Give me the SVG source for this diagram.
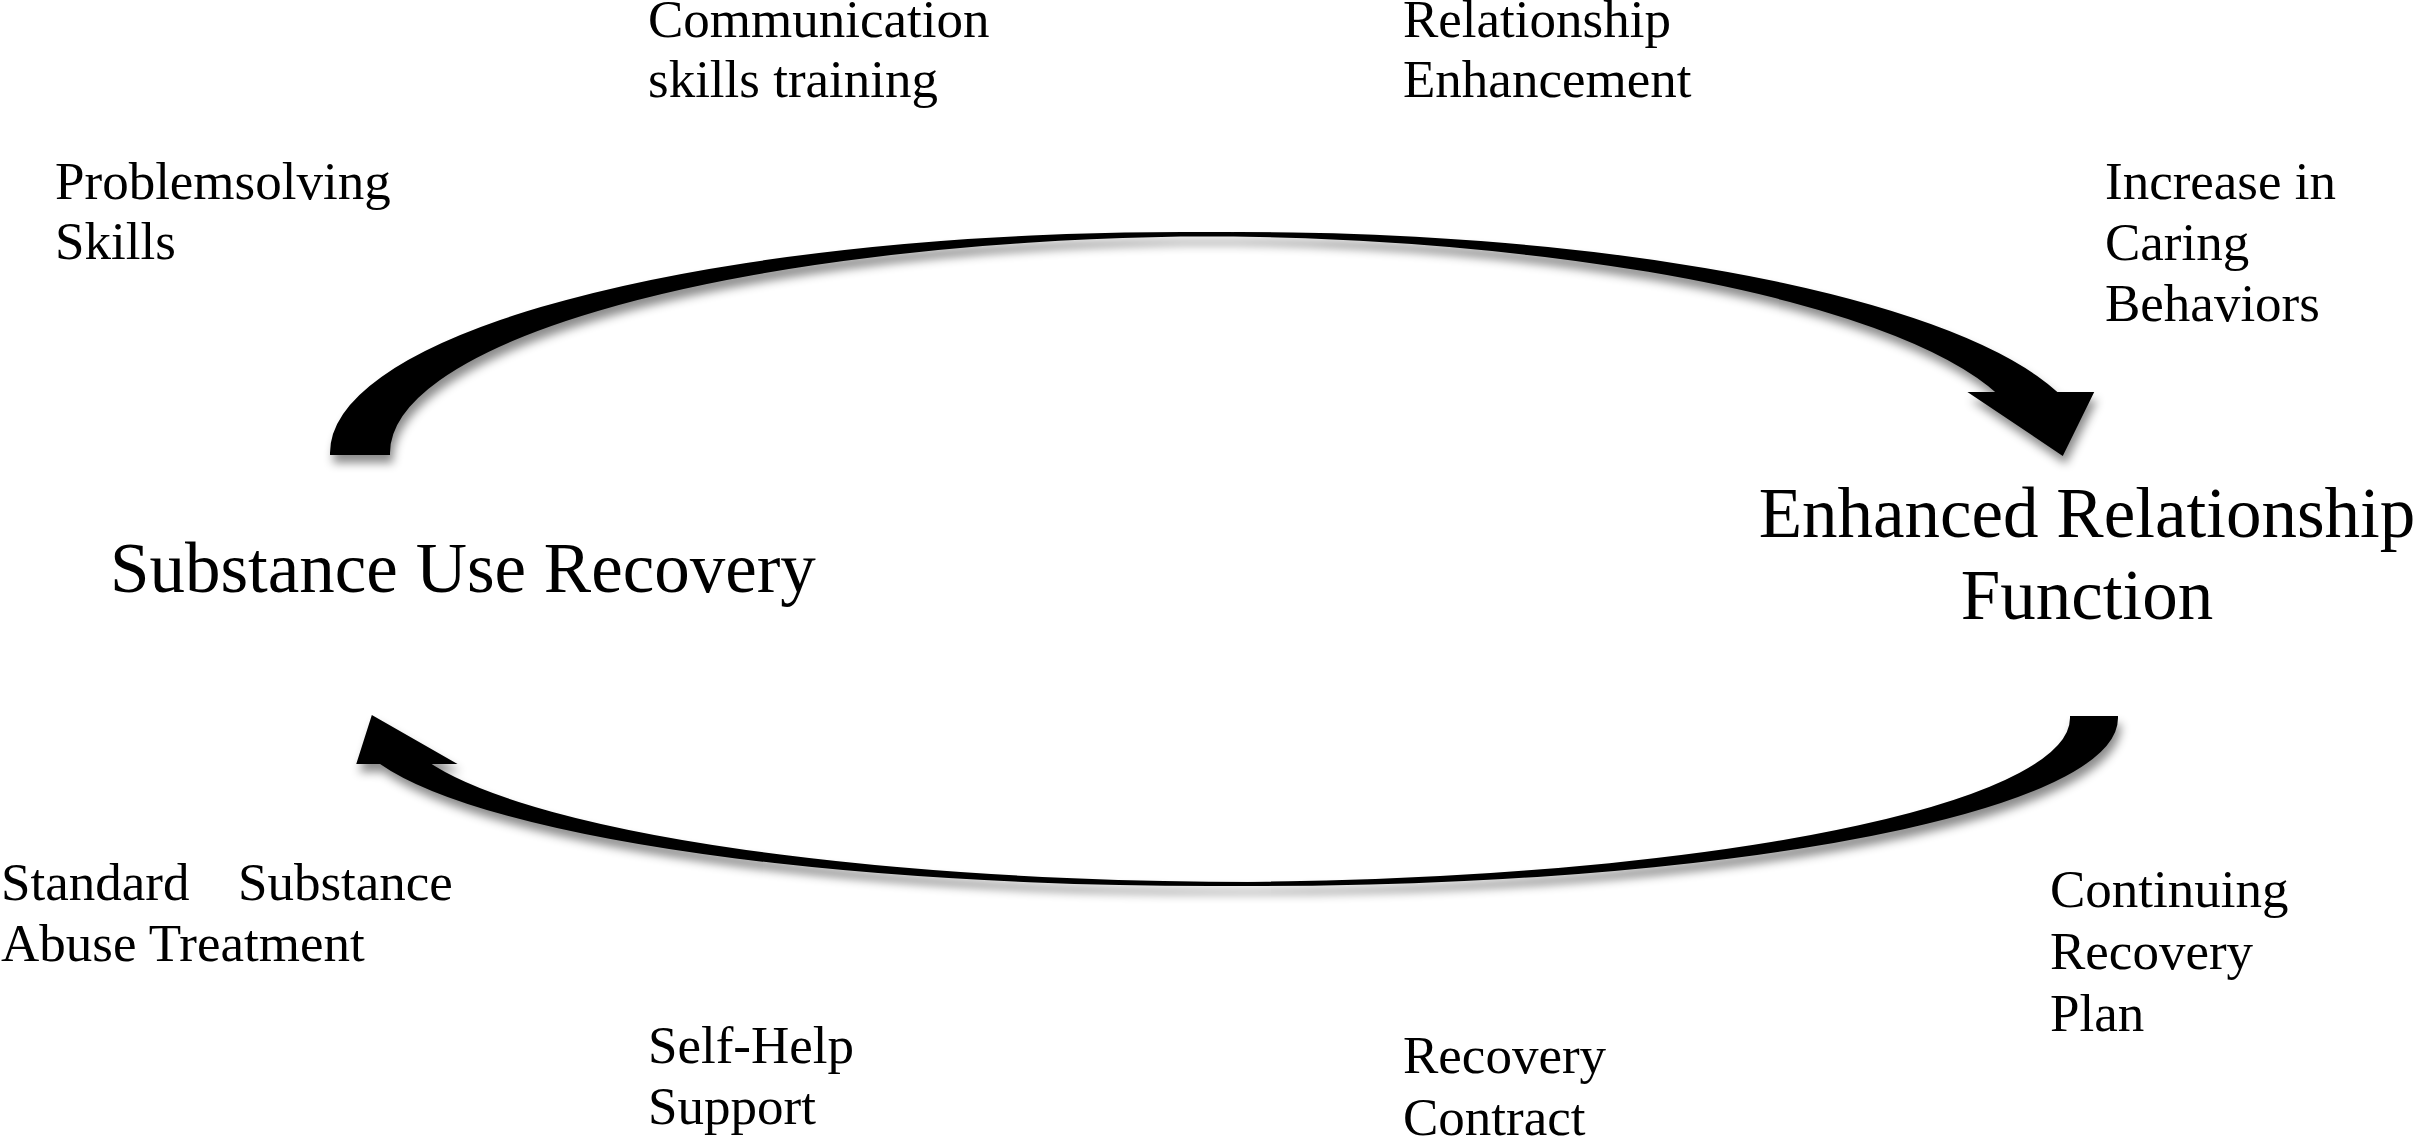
<svg xmlns="http://www.w3.org/2000/svg" width="2417" height="1137" viewBox="0 0 2417 1137">
<style>
.lbl{font-family:"Liberation Serif","Times New Roman",serif;font-size:53px;fill:#000}
.big{font-family:"Liberation Serif","Times New Roman",serif;font-size:71px;fill:#000}
.arrow{fill:#000;stroke:#000;stroke-width:4;stroke-linejoin:miter;filter:url(#shadow)}
</style>
<defs>
<filter id="shadow" x="-5%" y="-20%" width="110%" height="150%">
<feDropShadow dx="3" dy="8" stdDeviation="5" flood-color="#000" flood-opacity="0.45"/>
</filter>
</defs>
<rect width="2417" height="1137" fill="#fff"/>
<g id="connectors">
<path id="arrow-top" class="arrow" d="M 332 453 A 850 219 0 0 1 2000.6 394 L 1974 394 L 2062 453 L 2091 394 L 2056.6 394 A 850 219 0 0 0 388 453 Z"/>
<path id="arrow-bottom" class="arrow" d="M 2116 718 A 861 166 0 0 1 424.8 762 L 450 762 L 373 718 L 359 762 L 380.8 762 A 861 166 0 0 0 2072 718 Z"/>
</g>
<g id="node-substance">
<text class="big" x="110" y="592">Substance Use Recovery</text>
</g>
<g id="node-enhanced">
<text class="big" x="2087" y="537" text-anchor="middle">Enhanced Relationship</text>
<text class="big" x="2087" y="619" text-anchor="middle">Function</text>
</g>
<g id="label-problemsolving">
<text class="lbl" x="55" y="199">Problemsolving</text>
<text class="lbl" x="55" y="259">Skills</text>
</g>
<g id="label-communication">
<text class="lbl" x="648" y="37">Communication</text>
<text class="lbl" x="648" y="97">skills training</text>
</g>
<g id="label-relationship-enh">
<text class="lbl" x="1403" y="37">Relationship</text>
<text class="lbl" x="1403" y="97">Enhancement</text>
</g>
<g id="label-caring">
<text class="lbl" x="2105" y="199">Increase in</text>
<text class="lbl" x="2105" y="260">Caring</text>
<text class="lbl" x="2105" y="321">Behaviors</text>
</g>
<g id="label-standard">
<text class="lbl" x="1" y="900"><tspan>Standard</tspan><tspan x="238">Substance</tspan></text>
<text class="lbl" x="1" y="961">Abuse Treatment</text>
</g>
<g id="label-selfhelp">
<text class="lbl" x="648" y="1063">Self-Help</text>
<text class="lbl" x="648" y="1124">Support</text>
</g>
<g id="label-contract">
<text class="lbl" x="1403" y="1073">Recovery</text>
<text class="lbl" x="1403" y="1135">Contract</text>
</g>
<g id="label-continuing">
<text class="lbl" x="2050" y="907">Continuing</text>
<text class="lbl" x="2050" y="969">Recovery</text>
<text class="lbl" x="2050" y="1031">Plan</text>
</g>
</svg>
